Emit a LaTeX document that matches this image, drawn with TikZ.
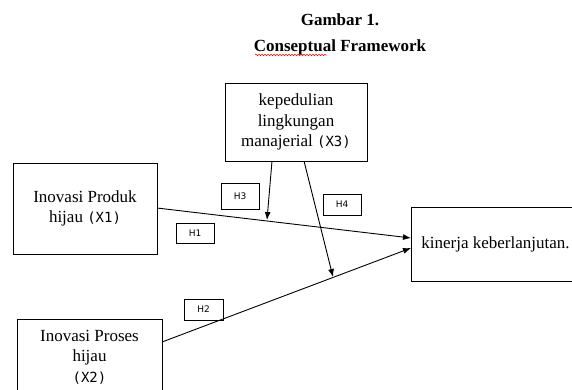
\documentclass[tikz,border=0pt]{standalone}
\usepackage{fontspec}
\setmainfont{Liberation Serif}
\newfontfamily\xfont{DejaVu Sans Mono}
\newfontfamily\hfont{DejaVu Sans}
\usetikzlibrary{arrows.meta,decorations.pathmorphing}
\begin{document}
\begin{tikzpicture}[x=1pt,y=-1pt,
  box/.style={draw,line width=0.9pt,align=center,font=\fontsize{17}{20.5}\selectfont,inner sep=0pt},
  xlab/.style={},
  hbox/.style={draw,line width=0.8pt,font=\hfont\fontsize{9}{10}\selectfont,inner sep=0pt},
  link/.style={line width=0.9pt,-{Latex[length=8pt,width=6pt]}},
  ttl/.style={font=\bfseries\fontsize{17}{19}\selectfont,anchor=base}]
\useasboundingbox (0,0) rectangle (572,389);
% titles
\node[ttl] (g1) at (340,25) {Gambar 1.};
\node[ttl] (g2) at (340,51) {Conseptual Framework};
\draw[red,line width=0.5pt,decorate,decoration={snake,amplitude=0.8pt,segment length=3pt}] (255,55) -- (327,55);
% boxes
\node[box,minimum width=142pt,minimum height=78pt] (x3) at (296,122) {kepedulian\\lingkungan\\manajerial {\xfont\fontsize{14}{20}\selectfont(X3)}};
\node[box,minimum width=144pt,minimum height=91pt] (x1) at (85,208.5) {Inovasi Produk\\hijau {\xfont\fontsize{14}{20}\selectfont(X1)}};
\node[box,minimum width=145pt,minimum height=76pt] (x2) at (89.5,357) {Inovasi Proses\\hijau\\{\xfont\fontsize{14}{20}\selectfont(X2)}};
\node[box,minimum width=169pt,minimum height=74pt] (y) at (495.5,244) {kinerja keberlanjutan.};
% hypothesis labels
\node[hbox,minimum width=38pt,minimum height=26pt] (h3) at (240,196) {H3};
\node[hbox,minimum width=38pt,minimum height=21pt] (h4) at (342,204.5) {H4};
\node[hbox,minimum width=38pt,minimum height=20pt] (h1) at (195,233) {H1};
\node[hbox,minimum width=39pt,minimum height=21pt] (h2) at (203.5,309.5) {H2};
% connector end points
\coordinate (s1) at (157,208);
\coordinate (s2) at (162,342);
\coordinate (t1) at (411,238);
\coordinate (t2) at (411,248);
\coordinate (m1) at (272,161);
\coordinate (m2) at (304,161);
\coordinate (e1) at (267,220);
\coordinate (e2) at (333,277);
% connectors
\draw[link] (s1) -- (t1);
\draw[link] (s2) -- (t2);
\draw[link] (m1) -- (e1);
\draw[link] (m2) -- (e2);
\end{tikzpicture}
\end{document}
